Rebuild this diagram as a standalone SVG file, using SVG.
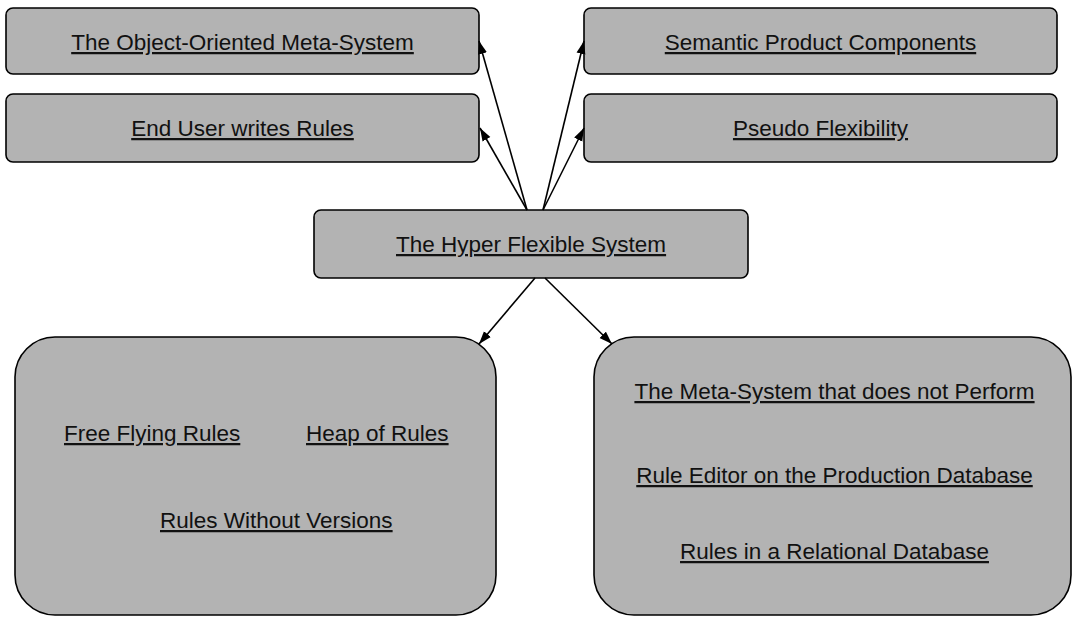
<svg xmlns="http://www.w3.org/2000/svg" width="1073" height="624" viewBox="0 0 1073 624">
  <style>
    .box { fill: #b3b3b3; stroke: #000; stroke-width: 1.6; }
    .lbl { font-family: "Liberation Sans", Arial, sans-serif; font-size: 22.5px; fill: #111; text-decoration: underline; }
    .mid { text-anchor: middle; }
    .conn { stroke: #000; stroke-width: 1.6; fill: none; marker-end: url(#arrow); }
  </style>
  <defs>
    <marker id="arrow" markerUnits="userSpaceOnUse" markerWidth="14" markerHeight="10" refX="13" refY="5" orient="auto">
      <path d="M0,0.5 L13,5 L0,9.5 z" fill="#000"/>
    </marker>
  </defs>
  <rect width="1073" height="624" fill="#fff"/>

  <g id="object-oriented-meta-system">
    <rect class="box" x="6" y="8" width="473" height="66" rx="7"/>
    <text class="lbl mid" x="242.5" y="50">The Object-Oriented Meta-System</text>
  </g>
  <g id="end-user-writes-rules">
    <rect class="box" x="6" y="94" width="473" height="68" rx="7"/>
    <text class="lbl mid" x="242.5" y="136">End User writes Rules</text>
  </g>
  <g id="semantic-product-components">
    <rect class="box" x="584" y="8" width="473" height="66" rx="7"/>
    <text class="lbl mid" x="820.5" y="50">Semantic Product Components</text>
  </g>
  <g id="pseudo-flexibility">
    <rect class="box" x="584" y="94" width="473" height="68" rx="7"/>
    <text class="lbl mid" x="820.5" y="136">Pseudo Flexibility</text>
  </g>
  <g id="hyper-flexible-system">
    <rect class="box" x="314" y="210" width="434" height="68" rx="7"/>
    <text class="lbl" x="396" y="252">The Hyper Flexible System</text>
  </g>
  <g id="rule-chaos">
    <rect class="box" x="15" y="337" width="481" height="278" rx="40"/>
    <text class="lbl" x="64" y="441">Free Flying Rules</text>
    <text class="lbl" x="306" y="441">Heap of Rules</text>
    <text class="lbl" x="160" y="528">Rules Without Versions</text>
  </g>
  <g id="meta-system-pitfalls">
    <rect class="box" x="594" y="337" width="477" height="278" rx="40"/>
    <text class="lbl mid" x="834.5" y="399">The Meta-System that does not Perform</text>
    <text class="lbl mid" x="834.5" y="483">Rule Editor on the Production Database</text>
    <text class="lbl mid" x="834.5" y="559">Rules in a Relational Database</text>
  </g>

  <g id="connectors">
    <line class="conn" x1="527" y1="210" x2="479" y2="41"/>
    <line class="conn" x1="527" y1="210" x2="480" y2="128"/>
    <line class="conn" x1="543" y1="210" x2="584" y2="41"/>
    <line class="conn" x1="543" y1="210" x2="584" y2="128"/>
    <line class="conn" x1="535" y1="278" x2="479" y2="344"/>
    <line class="conn" x1="545" y1="278" x2="612" y2="344"/>
  </g>
</svg>
